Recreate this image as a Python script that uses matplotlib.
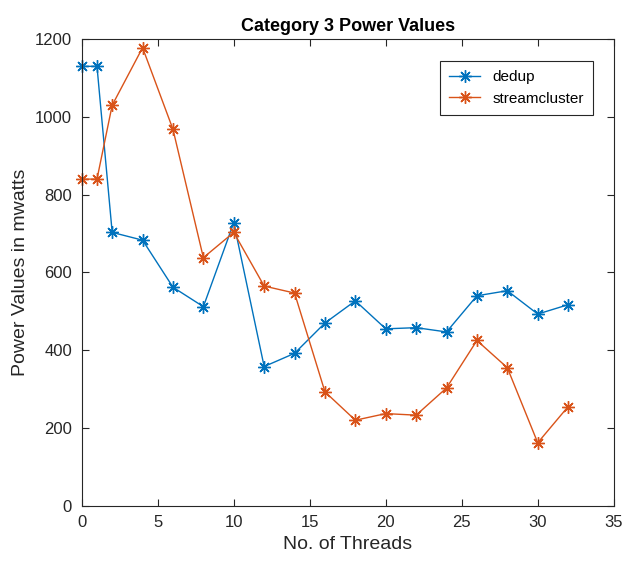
import matplotlib
matplotlib.use("Agg")
import matplotlib.pyplot as plt

plt.rcParams["font.family"] = ["Liberation Sans Narrow", "Liberation Sans", "DejaVu Sans"]

# data
threads = [0, 1, 2, 4, 6, 8, 10, 12, 14, 16, 18, 20, 22, 24, 26, 28, 30, 32]
dedup = [1130, 1130, 703, 683, 562, 512, 728, 358, 392, 470, 527, 455, 458, 447, 540, 553, 493, 517]
streamcluster = [840, 840, 1030, 1178, 968, 638, 703, 565, 547, 293, 220, 237, 233, 303, 425, 355, 162, 255]

fig = plt.figure(figsize=(6.34, 5.67), dpi=100)
ax = fig.add_axes([0.129, 0.108, 0.839, 0.823])

star = (8, 2, 0)  # asterisk like MATLAB '*'
ax.plot(threads, dedup, color="#0072BD", marker=star, markersize=9, mew=1.0,
        lw=1, label="dedup", clip_on=False)
ax.plot(threads, streamcluster, color="#D95319", marker=star, markersize=9, mew=1.0,
        lw=1, label="streamcluster", clip_on=False)

ax.set_xlim(0, 35)
ax.set_ylim(0, 1200)
ax.set_xticks(range(0, 36, 5))
ax.set_yticks(range(0, 1201, 200))
ax.tick_params(direction="in", top=True, right=True, labelsize=12, colors="#262626", length=5)
ax.tick_params(axis="x", pad=7)
ax.tick_params(axis="y", pad=7)
for s in ax.spines.values():
    s.set_color("#262626")
    s.set_linewidth(0.8)

ax.set_title("Category 3 Power Values", fontsize=13, fontweight="bold")
ax.set_xlabel("No. of Threads", fontsize=14, color="#262626")
ax.set_ylabel("Power Values in mwatts", fontsize=14, color="#262626")

leg = ax.legend(loc="upper right", bbox_to_anchor=(0.975, 0.97), fontsize=11,
                fancybox=False, edgecolor="#262626", framealpha=1, borderpad=0.6)
leg.get_frame().set_linewidth(0.8)

fig.savefig("out.png", dpi=100)
